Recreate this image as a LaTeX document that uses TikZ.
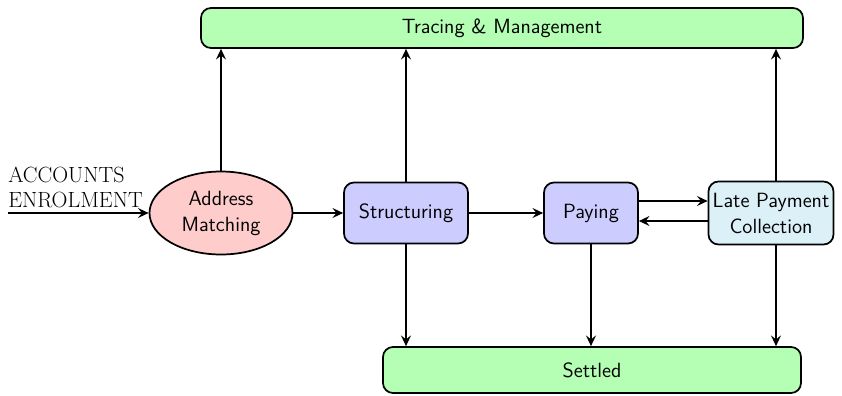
\documentclass[tikz,border=0pt]{standalone}
\usetikzlibrary{arrows.meta,shapes.geometric}
\definecolor{boxgreen}{RGB}{180,255,180}
\definecolor{boxred}{RGB}{255,204,204}
\definecolor{boxblue}{RGB}{204,204,255}
\definecolor{boxcyan}{RGB}{220,240,248}
\tikzset{
  base/.style={draw, line width=1.3pt, font=\sffamily\fontsize{15.45}{19.5}\selectfont, align=center, inner sep=0pt},
  rbox/.style={base, rectangle, rounded corners=7.5pt},
  conn/.style={line width=1.3pt, -{Stealth[length=8pt,width=7.5pt,inset=3pt]}},
}
\begin{document}
\begin{tikzpicture}[x=0.75pt,y=-0.75pt]
\useasboundingbox (0,0) rectangle (842,396);
\node[rbox, fill=boxgreen, minimum width=602*0.75pt, minimum height=40*0.75pt] (trace) at (502,28) {Tracing \& Management};
\node[rbox, fill=boxgreen, minimum width=418*0.75pt, minimum height=46*0.75pt] (settled) at (592,370) {Settled};
\node[base, ellipse, fill=boxred, minimum width=143*0.75pt, minimum height=83*0.75pt] (addr) at (221,213) {Address\\Matching};
\node[rbox, fill=boxblue, minimum width=124*0.75pt, minimum height=61*0.75pt] (struct) at (406,213) {Structuring};
\node[rbox, fill=boxblue, minimum width=94*0.75pt, minimum height=61*0.75pt] (pay) at (591,213) {Paying};
\node[rbox, fill=boxcyan, minimum width=125*0.75pt, minimum height=63*0.75pt] (late) at (771,213) {Late Payment\\Collection};
\coordinate (in) at (8,213);
\node[anchor=south west, align=left, inner sep=0pt, font=\fontsize{16.5}{18.5}\selectfont] (lbl) at (8,208) {ACCOUNTS\\ENROLMENT};
\draw[conn] (in) -- (addr.west);
\draw[conn] (addr) -- (struct);
\draw[conn] (struct) -- (pay);
\draw[conn] (pay.east |- 0,201) -- (late.west |- 0,201);
\draw[conn] (late.west |- 0,221) -- (pay.east |- 0,221);
\draw[conn] (addr.north) -- (trace.south -| addr.north);
\draw[conn] (struct.north) -- (trace.south -| struct.north);
\draw[conn] (late.north -| 776,0) -- (trace.south -| 776,0);
\draw[conn] (struct.south) -- (settled.north -| struct.south);
\draw[conn] (pay.south) -- (settled.north -| pay.south);
\draw[conn] (late.south -| 776,0) -- (settled.north -| 776,0);
\end{tikzpicture}
\end{document}
